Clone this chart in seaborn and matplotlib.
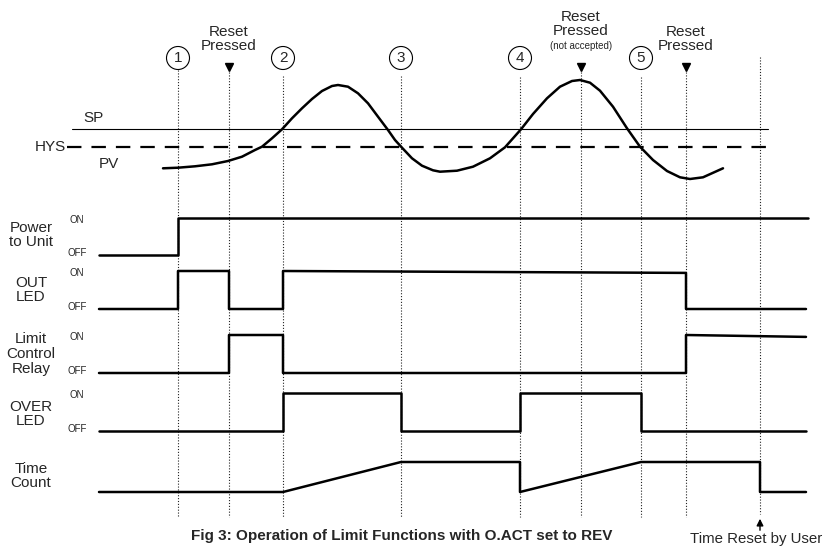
import matplotlib
matplotlib.use('Agg')
import matplotlib.pyplot as plt
import seaborn as sns
import pandas as pd
from matplotlib.patches import Circle

# ---------------- data ----------------
# event times (time axis units)
event_times = [178, 229, 283, 401, 520, 581, 641, 686, 760]
event_top = [70, 72, 76, 76, 77, 72, 77, 72, 57]
circle_times = [178, 283, 401, 520, 641]
circle_labels = ['1', '2', '3', '4', '5']
reset_times = [229, 581, 686]
reset_labels = ['Reset\nPressed', 'Reset\nPressed', 'Reset\nPressed']

# process value curve
pv_t = [163, 178, 195, 212, 228, 242, 255, 262, 272, 282, 292, 302, 312, 322,
        332, 338, 348, 358, 368, 378, 388, 395, 402, 412, 422, 433, 440, 457,
        473, 490, 505, 521, 533, 547, 560, 572, 580, 590, 600, 613, 627, 640,
        653, 667, 680, 690, 703, 723]
pv_v = [168.3, 167.7, 166.3, 164.3, 161, 156.7, 150, 146.7, 138.3, 129.3,
        118.3, 108.3, 99, 91, 86, 85, 86.7, 93.3, 103.3, 116.7, 130, 140,
        147.7, 158.3, 165.7, 170.3, 171.7, 170.7, 166.7, 158.3, 147.3, 129.3,
        114, 98.3, 86.7, 81, 80, 82.7, 90.7, 106.7, 128.3, 146.7, 160, 171,
        177.3, 179, 177.3, 168.3]
sp_level = 129
hys_level = 147

# digital signals: times and states (0 = OFF, 1 = ON)
power_t = [99, 178, 178, 808]
power_s = [0, 0, 1, 1]
out_t = [99, 178, 178, 229, 229, 283, 283, 686, 686, 806]
out_s = [0, 0, 1, 1, 0, 0, 1, 0.95, 0, 0]
relay_t = [99, 229, 229, 283, 283, 686, 686, 806]
relay_s = [0, 0, 1, 1, 0, 0, 1, 0.95]
over_t = [99, 283, 283, 401, 401, 520, 520, 641, 641, 806]
over_s = [0, 0, 1, 1, 0, 0, 1, 1, 0, 0]
count_t = [99, 283, 401, 520, 520, 641, 760, 760, 806]
count_s = [0, 0, 1, 1, 0, 1, 1, 0, 0]

row_names = ['Power\nto Unit', 'OUT\nLED', 'Limit\nControl\nRelay', 'OVER\nLED', 'Time\nCount']
row_label_y = [235, 290, 354, 414, 476]
row_off = [255, 309, 373, 431, 492]
row_on = [218, 271, 335, 393, 462]
row_onoff = [True, True, True, True, False]

# ---------------- drawing ----------------
sns.set_theme(style='white')
plt.rcParams['font.family'] = ['Liberation Sans', 'DejaVu Sans']

fig = plt.figure(figsize=(8.26, 5.47), dpi=100)
ax = fig.add_axes([0, 0, 1, 1])
ax.set_xlim(0, 826)
ax.set_ylim(547, 0)
ax.axis('off')

# dotted event lines
for t, top in zip(event_times, event_top):
    bottom = 514 if t == 760 else 517
    ax.plot([t, t], [top, bottom], color='#222222', lw=0.8,
            linestyle=(0, (1, 1.6)), zorder=1)

# SP and HYS lines
ax.plot([72, 768], [sp_level, sp_level], color='black', lw=0.8)
ax.plot([67, 775], [hys_level, hys_level], color='black', lw=1.6,
        linestyle=(0, (6.5, 4.5)))
ax.text(83, 118, 'SP', fontsize=11, ha='left', va='center')
ax.text(66, 147, 'HYS', fontsize=11, ha='right', va='center')
ax.text(99, 164, 'PV', fontsize=11, ha='left', va='center')

# PV curve
pv_df = pd.DataFrame({'t': pv_t, 'v': pv_v})
sns.lineplot(data=pv_df, x='t', y='v', sort=False, estimator=None,
             color='black', lw=1.8, ax=ax)

# digital rows
signals = [(power_t, power_s), (out_t, out_s), (relay_t, relay_s),
           (over_t, over_s), (count_t, count_s)]
for (tt, ss), off, on in zip(signals, row_off, row_on):
    df = pd.DataFrame({'t': tt, 'y': [off - s * (off - on) for s in ss]})
    sns.lineplot(data=df, x='t', y='y', sort=False, estimator=None,
                 color='black', lw=1.8, ax=ax)

for name, ly, off, on, has in zip(row_names, row_label_y, row_off, row_on, row_onoff):
    ax.text(31, ly, name, fontsize=11, ha='center', va='center', linespacing=1.08)
    if has:
        ax.text(77, on + 2, 'ON', fontsize=7, ha='center', va='center')
        ax.text(77, off - 2, 'OFF', fontsize=7, ha='center', va='center')

# circles with numbers
for t, lab in zip(circle_times, circle_labels):
    ax.add_patch(Circle((t, 58), 11.5, fill=False, ec='black', lw=0.8))
    ax.text(t, 58.5, lab, fontsize=11, ha='center', va='center')

# reset markers
for t, lab in zip(reset_times, reset_labels):
    if t == 581:
        ax.text(t, 24, lab, fontsize=11, ha='center', va='center', linespacing=1.05)
        ax.text(t, 46, '(not accepted)', fontsize=7, ha='center', va='center')
    else:
        ax.text(t, 39, lab, fontsize=11, ha='center', va='center', linespacing=1.05)
    ax.plot([t], [67], marker='v', color='black', markersize=6, ls='none')

# caption and time reset note
ax.text(402, 536, 'Fig 3: Operation of Limit Functions with O.ACT set to REV',
        fontsize=11, fontweight='bold', ha='center', va='center')
ax.annotate('', xy=(760, 516), xytext=(760, 533),
            arrowprops=dict(arrowstyle='-|>', lw=1, color='black', mutation_scale=10))
ax.text(756, 539, 'Time Reset by User', fontsize=10.8, ha='center', va='center')

fig.savefig('out.png', dpi=100)
